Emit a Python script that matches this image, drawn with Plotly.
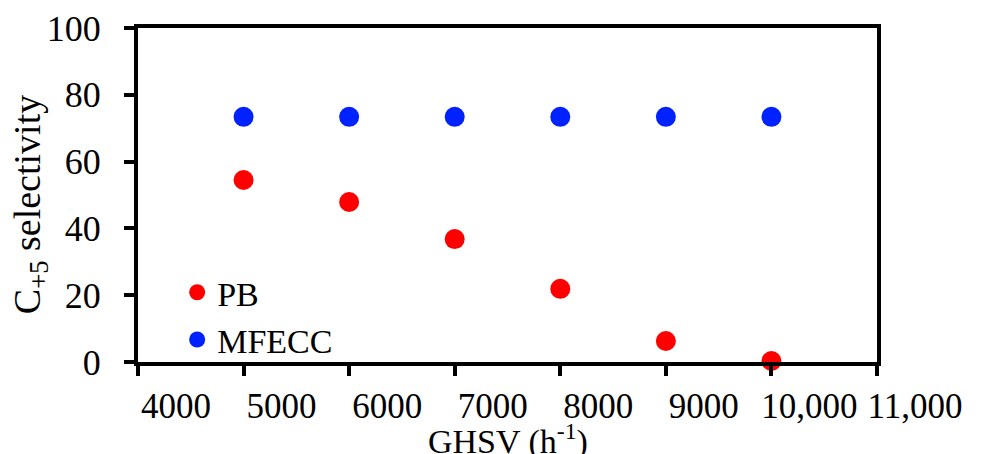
import plotly.graph_objects as go

ghsv = [5000, 6000, 7000, 8000, 9000, 10000]
pb = [54.5, 47.9, 36.8, 21.9, 6.3, 0.3]
mfecc = [73.4, 73.4, 73.4, 73.4, 73.4, 73.4]
x_ticks = [4000, 5000, 6000, 7000, 8000, 9000, 10000, 11000]
x_labels = ["4000", "5000", "6000", "7000", "8000", "9000", "10,000", "11,000"]
y_ticks = [0, 20, 40, 60, 80, 100]

font = dict(family="Liberation Serif, Times New Roman, serif", color="black")

fig = go.Figure()
fig.add_trace(go.Scatter(x=ghsv, y=pb, mode="markers", name="PB",
                         marker=dict(color="#ff0000", size=20), cliponaxis=False))
fig.add_trace(go.Scatter(x=ghsv, y=mfecc, mode="markers", name="MFECC",
                         marker=dict(color="#0022ff", size=20), cliponaxis=False))

fig.update_layout(
    width=976, height=446,
    margin=dict(l=130, r=107, t=20, b=92, autoexpand=False),
    paper_bgcolor="white", plot_bgcolor="white",
    font=dict(size=34, **font),
    showlegend=True,
    legend=dict(x=0.053, y=-0.02, xanchor="left", yanchor="bottom",
                bgcolor="rgba(0,0,0,0)", font=dict(size=34, **font),
                itemsizing="trace", tracegroupgap=0, itemwidth=30),
    xaxis=dict(range=[4000, 11000], tickmode="array", tickvals=x_ticks, ticktext=x_labels,
               showline=True, linecolor="black", linewidth=4, mirror=True,
               ticks="outside", ticklen=10, tickwidth=4, tickcolor="black",
               showgrid=False, zeroline=False, ticklabelshift=38, ticklabelstandoff=0,
               automargin=False,
               tickfont=dict(size=35, **font)),
    yaxis=dict(range=[0, 100], tickmode="array", tickvals=y_ticks,
               showline=True, linecolor="black", linewidth=4, mirror=True,
               ticks="outside", ticklen=10, tickwidth=4, tickcolor="black",
               showgrid=False, zeroline=False, ticklabelstandoff=16,
               automargin=False,
               tickfont=dict(size=36, **font)),
    annotations=[
        dict(text="GHSV (h<sup>-1</sup>)", xref="paper", yref="paper", x=0.5, y=-0.232,
             xanchor="center", yanchor="middle", showarrow=False, font=dict(size=34, **font)),
        dict(text="C<sub>+5</sub> selectivity", xref="paper", yref="paper", x=-0.146, y=0.47,
             xanchor="center", yanchor="middle", textangle=-90, showarrow=False,
             font=dict(size=38, **font)),
    ],
)

fig.write_html("out.html")
